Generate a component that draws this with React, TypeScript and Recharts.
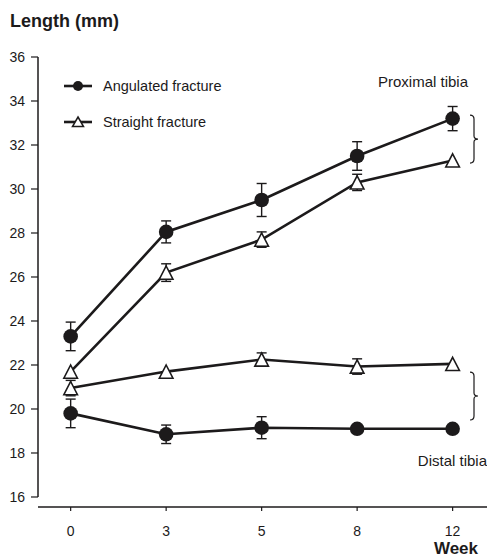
import React from "react";
import {
  LineChart,
  Line,
  XAxis,
  YAxis,
  ErrorBar,
  ReferenceLine,
  Legend,
} from "recharts";

// weeks after fracture (x categories)
const weeks = ["0", "3", "5", "8", "12"];

// proximal tibia
const angulatedProximal = [23.3, 28.05, 29.5, 31.5, 33.2];
const angulatedProximalErr = [0.65, 0.5, 0.75, 0.65, 0.55];
const straightProximal = [21.7, 26.2, 27.7, 30.3, 31.3];
const straightProximalErr = [0, 0.4, 0.35, 0.37, 0];

// distal tibia
const angulatedDistal = [19.8, 18.85, 19.15, 19.1, 19.1];
const angulatedDistalErr = [0.65, 0.42, 0.5, 0, 0];
const straightDistal = [20.95, 21.7, 22.25, 21.93, 22.05];
const straightDistalErr = [0.35, 0, 0.3, 0.35, 0];

const yTicks = [16, 18, 20, 22, 24, 26, 28, 30, 32, 34, 36];
// curly braces to the right of each group (top, bottom in mm)
const braceRanges = [
  [33.36, 31.18],
  [21.68, 19.5],
];

const INK = "#1c1a1b";
const FONT = "'Liberation Sans', Arial, sans-serif";
const X_MIN = -0.342;
const X_MAX = 4.36;
const Y_MIN = 15.545;

const data = weeks.map((w, i) => ({
  idx: i,
  week: w,
  angProx: angulatedProximal[i],
  angProxErr: angulatedProximalErr[i],
  strProx: straightProximal[i],
  strProxErr: straightProximalErr[i],
  angDist: angulatedDistal[i],
  angDistErr: angulatedDistalErr[i],
  strDist: straightDistal[i],
  strDistErr: straightDistalErr[i],
}));

function TriangleDot(props: any) {
  const { cx, cy } = props;
  if (cx == null || cy == null) return null;
  const h = 6.6;
  const w = 6.8;
  return (
    <path
      d={`M${cx},${cy - h} L${cx + w},${cy + h} L${cx - w},${cy + h} Z`}
      fill="#fff"
      stroke={INK}
      strokeWidth={1.6}
      strokeLinejoin="miter"
    />
  );
}

const circleDot = { r: 7.3, fill: INK, stroke: INK, strokeWidth: 0 };

function Brace(props: any) {
  const { x1, y1, y2 } = props;
  const top = Math.min(y1, y2);
  const bot = Math.max(y1, y2);
  const mid = (top + bot) / 2;
  const x = x1;
  const d = `M${x},${top} Q${x + 4},${top} ${x + 4},${top + 4} L${x + 4},${mid - 3} Q${x + 4},${mid} ${x + 8},${mid} Q${x + 4},${mid} ${x + 4},${mid + 3} L${x + 4},${bot - 4} Q${x + 4},${bot} ${x},${bot}`;
  return <path d={d} fill="none" stroke={INK} strokeWidth={1.2} />;
}

function LegendContent(props: any) {
  const items = (props.payload || []).filter((p: any) => p.type !== "none");
  return (
    <div style={{ width: 220, fontFamily: FONT, fontSize: 14.5, color: INK }}>
      {items.map((entry: any) => (
        <div
          key={entry.value}
          style={{ display: "flex", alignItems: "center", height: 36, whiteSpace: "nowrap" }}
        >
          <svg width={30} height={16}>
            <line x1={1} x2={29} y1={8} y2={8} stroke={INK} strokeWidth={2.6} />
            {entry.dataKey === "angProx" ? (
              <circle cx={15} cy={8} r={5} fill={INK} />
            ) : (
              <path d="M15,3 L20.5,12.5 L9.5,12.5 Z" fill="#fff" stroke={INK} strokeWidth={1.5} />
            )}
          </svg>
          <span style={{ marginLeft: 10 }}>{entry.value}</span>
        </div>
      ))}
    </div>
  );
}

const textStyle: React.CSSProperties = {
  position: "absolute",
  fontFamily: FONT,
  color: INK,
  lineHeight: 1,
  whiteSpace: "nowrap",
};

export default function App() {
  return (
    <div
      style={{
        position: "absolute",
        left: 0,
        top: 0,
        width: 487,
        height: 560,
        background: "#fff",
      }}
    >
      <LineChart
        width={487}
        height={560}
        data={data}
        margin={{ top: 57, right: 0, left: 0, bottom: 0 }}
      >
        <XAxis
          dataKey="idx"
          type="number"
          domain={[X_MIN, X_MAX]}
          ticks={[0, 1, 2, 3, 4]}
          tickFormatter={(i: number) => weeks[i]}
          height={53}
          tickSize={4}
          tickMargin={15}
          axisLine={{ stroke: INK, strokeWidth: 1.5 }}
          tickLine={{ stroke: INK, strokeWidth: 1.2 }}
          tick={{ fill: INK, fontSize: 14, fontFamily: FONT }}
          allowDataOverflow
        />
        <YAxis
          type="number"
          domain={[Y_MIN, 36]}
          ticks={yTicks}
          width={38}
          tickSize={7}
          tickMargin={6}
          axisLine={false}
          tickLine={{ stroke: INK, strokeWidth: 1.2 }}
          tick={{ fill: INK, fontSize: 14, fontFamily: FONT }}
          allowDataOverflow
        />
        <ReferenceLine
          segment={[
            { x: X_MIN, y: 16 },
            { x: X_MIN, y: 36 },
          ]}
          stroke={INK}
          strokeWidth={1.5}
          ifOverflow="visible"
        />
        {braceRanges.map(([a, b], i) => (
          <ReferenceLine
            key={`brace-${i}`}
            segment={[
              { x: 4.182, y: a },
              { x: 4.182, y: b },
            ]}
            ifOverflow="visible"
            shape={<Brace />}
          />
        ))}
        <Legend
          layout="vertical"
          verticalAlign="top"
          align="left"
          wrapperStyle={{ left: 63, top: 68, width: 0, height: 0, overflow: "visible" }}
          content={<LegendContent />}
        />
        <Line
          dataKey="angProx"
          name="Angulated fracture"
          stroke={INK}
          strokeWidth={2.6}
          dot={circleDot}
          activeDot={false}
          isAnimationActive={false}
        >
          <ErrorBar dataKey="angProxErr" width={5} stroke={INK} strokeWidth={1.4} direction="y" />
        </Line>
        <Line
          dataKey="strProx"
          name="Straight fracture"
          stroke={INK}
          strokeWidth={2.6}
          dot={<TriangleDot />}
          activeDot={false}
          isAnimationActive={false}
        >
          <ErrorBar dataKey="strProxErr" width={5} stroke={INK} strokeWidth={1.4} direction="y" />
        </Line>
        <Line
          dataKey="angDist"
          name="Angulated fracture (distal)"
          legendType="none"
          stroke={INK}
          strokeWidth={2.6}
          dot={circleDot}
          activeDot={false}
          isAnimationActive={false}
        >
          <ErrorBar dataKey="angDistErr" width={5} stroke={INK} strokeWidth={1.4} direction="y" />
        </Line>
        <Line
          dataKey="strDist"
          name="Straight fracture (distal)"
          legendType="none"
          stroke={INK}
          strokeWidth={2.6}
          dot={<TriangleDot />}
          activeDot={false}
          isAnimationActive={false}
        >
          <ErrorBar dataKey="strDistErr" width={5} stroke={INK} strokeWidth={1.4} direction="y" />
        </Line>
      </LineChart>

      <div style={{ ...textStyle, left: 10, top: 11.5, fontSize: 18, fontWeight: 700 }}>
        Length (mm)
      </div>
      <div style={{ ...textStyle, left: 378, top: 74, fontSize: 15 }}>Proximal tibia</div>
      <div style={{ ...textStyle, right: 0, top: 453, fontSize: 15 }}>Distal tibia</div>
      <div style={{ ...textStyle, right: 9, top: 540, fontSize: 17, fontWeight: 700 }}>Week</div>
    </div>
  );
}
